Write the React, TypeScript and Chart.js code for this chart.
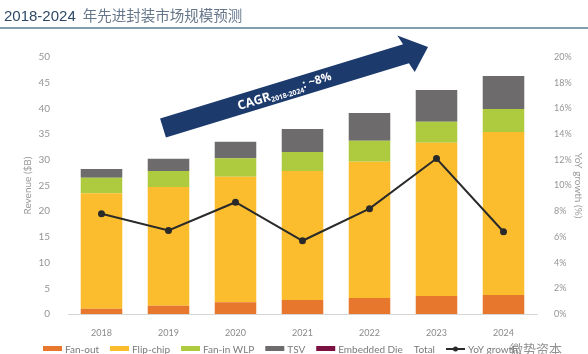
import React, { useEffect, useRef } from "react";
import { Chart, registerables } from "chart.js";

Chart.register(...registerables);

const years = ["2018", "2019", "2020", "2021", "2022", "2023", "2024"];
const fanOut = [1.0, 1.6, 2.3, 2.7, 3.1, 3.5, 3.7];
const flipChip = [22.5, 23.1, 24.4, 25.1, 26.5, 29.8, 31.7];
const fanInWLP = [3.0, 3.1, 3.6, 3.7, 4.1, 4.1, 4.5];
const tsv = [1.7, 2.4, 3.2, 4.5, 5.4, 6.2, 6.4];
const embeddedDie = [0, 0, 0, 0, 0, 0, 0];
const yoyGrowth = [7.8, 6.5, 8.7, 5.7, 8.2, 12.1, 6.4];
const revenueTicks = { min: 0, max: 50, step: 5 };
const growthTicks = { min: 0, max: 20, step: 2 };

const titleNum = "2018-2024";
const titleText = "年先进封装市场规模预测";
const cagrLabel = "CAGR";
const cagrSub = "2018-2024";
const cagrValue = ": ~8%";
const watermark = "微势资本";

const COLORS = {
  fanOut: "#E8772E",
  flipChip: "#FBBD2E",
  fanIn: "#AECB3F",
  tsv: "#6D6B6C",
  embedded: "#7B1140",
  line: "#2A2A2A",
};

const legendItems = [
  { label: "Fan-out", color: COLORS.fanOut, kind: "box" },
  { label: "Flip-chip", color: COLORS.flipChip, kind: "box" },
  { label: "Fan-in WLP", color: COLORS.fanIn, kind: "box" },
  { label: "TSV", color: COLORS.tsv, kind: "box" },
  { label: "Embedded Die", color: COLORS.embedded, kind: "box" },
  { label: "Total", color: "transparent", kind: "none" },
  { label: "YoY growth", color: COLORS.line, kind: "line" },
];

const decorPlugin = {
  id: "decor",
  beforeDraw(chart: any) {
    const ctx = chart.ctx;
    ctx.save();
    ctx.textBaseline = "alphabetic";
    ctx.textAlign = "left";
    ctx.font = '15px "Liberation Sans", Arial, sans-serif';
    ctx.fillStyle = "#2E4966";
    ctx.fillText(titleNum, 4, 21);
    const w = ctx.measureText(titleNum).width;
    ctx.font = '14.5px "Noto Sans CJK SC", sans-serif';
    ctx.fillStyle = "#66778A";
    ctx.fillText(titleText, 4 + w + 7, 21);
    ctx.strokeStyle = "#55808F";
    ctx.lineWidth = 1.5;
    ctx.beginPath();
    ctx.moveTo(0, 28);
    ctx.lineTo(588, 28);
    ctx.stroke();
    ctx.restore();
  },
  afterDraw(chart: any) {
    const ctx = chart.ctx;
    ctx.save();
    const sx = 163, sy = 128, tx = 428, ty = 47;
    const ang = Math.atan2(ty - sy, tx - sx);
    const len = Math.hypot(tx - sx, ty - sy);
    ctx.translate(sx, sy);
    ctx.rotate(ang);
    const ht = 10, hw = 20, hl = 23;
    ctx.fillStyle = "#1D3A6D";
    ctx.beginPath();
    ctx.moveTo(0, -ht);
    ctx.lineTo(len - hl, -ht);
    ctx.lineTo(len - hl - 3, -hw);
    ctx.lineTo(len, 0);
    ctx.lineTo(len - hl + 3, hw);
    ctx.lineTo(len - hl, ht);
    ctx.lineTo(0, ht);
    ctx.closePath();
    ctx.fill();
    ctx.fillStyle = "#FFFFFF";
    ctx.textBaseline = "alphabetic";
    ctx.textAlign = "left";
    let x = 78;
    ctx.font = 'bold 12.5px "Open Sans", sans-serif';
    ctx.fillText(cagrLabel, x, 5);
    x += ctx.measureText(cagrLabel).width;
    ctx.font = 'bold 7px "Open Sans", sans-serif';
    ctx.fillText(cagrSub, x, 7);
    x += ctx.measureText(cagrSub).width;
    ctx.font = 'bold 11.5px "Open Sans", sans-serif';
    ctx.fillText(cagrValue, x, 3);
    ctx.restore();

    ctx.save();
    ctx.font = '10px Lato, "Open Sans", sans-serif';
    ctx.textBaseline = "middle";
    ctx.textAlign = "left";
    const ly = 349;
    let lx = 43;
    legendItems.forEach((it) => {
      if (it.kind === "box") {
        ctx.fillStyle = it.color;
        ctx.fillRect(lx, ly - 3, 19, 5);
        lx += 22;
      } else if (it.kind === "line") {
        ctx.strokeStyle = it.color;
        ctx.lineWidth = 2;
        ctx.beginPath();
        ctx.moveTo(lx, ly);
        ctx.lineTo(lx + 19, ly);
        ctx.stroke();
        ctx.fillStyle = it.color;
        ctx.beginPath();
        ctx.arc(lx + 9.5, ly, 2.5, 0, Math.PI * 2);
        ctx.fill();
        lx += 22;
      }
      ctx.fillStyle = "#7A7A7A";
      ctx.fillText(it.label, lx, ly + 1);
      lx += ctx.measureText(it.label).width + 11;
    });
    ctx.font = '13px "Noto Sans CJK SC", sans-serif';
    ctx.fillStyle = "rgba(110,110,110,0.75)";
    ctx.fillText(watermark, 510, ly);
    ctx.restore();
  },
};

export default function App() {
  const ref = useRef<HTMLCanvasElement | null>(null);
  useEffect(() => {
    document.body.style.margin = "0";
    const canvas = ref.current;
    if (!canvas) return;
    const barDs = (label: string, data: number[], color: string) => ({
      type: "bar" as const,
      label,
      data,
      backgroundColor: color,
      borderWidth: 0,
      yAxisID: "y",
      stack: "rev",
      order: 2,
      barPercentage: 0.62,
      categoryPercentage: 1,
    });
    const chart = new Chart(canvas, {
      type: "bar",
      data: {
        labels: years,
        datasets: [
          {
            type: "line" as const,
            label: "YoY growth",
            data: yoyGrowth,
            borderColor: COLORS.line,
            backgroundColor: COLORS.line,
            borderWidth: 2,
            pointRadius: 2.5,
            pointBackgroundColor: COLORS.line,
            yAxisID: "y1",
            order: 0,
            tension: 0,
          } as any,
          barDs("Fan-out", fanOut, COLORS.fanOut),
          barDs("Flip-chip", flipChip, COLORS.flipChip),
          barDs("Fan-in WLP", fanInWLP, COLORS.fanIn),
          barDs("TSV", tsv, COLORS.tsv),
          barDs("Embedded Die", embeddedDie, COLORS.embedded),
        ],
      },
      options: {
        responsive: false,
        animation: false,
        devicePixelRatio: 1,
        layout: { padding: { top: 57, bottom: 18, left: 0, right: 0 } },
        plugins: {
          legend: { display: false },
          title: { display: false },
          tooltip: { enabled: false },
        },
        scales: {
          x: {
            stacked: true,
            grid: { display: false },
            border: { display: true, color: "#D6D6D6", width: 1 },
            ticks: {
              color: "#8A8A8A",
              font: { family: 'Lato, "Open Sans", sans-serif', size: 9 },
              padding: 6,
            },
            afterFit(scale: any) {
              scale.height = 22;
            },
          },
          y: {
            position: "left",
            stacked: true,
            min: revenueTicks.min,
            max: revenueTicks.max,
            ticks: {
              stepSize: revenueTicks.step,
              color: "#959595",
              font: { family: 'Lato, "Open Sans", sans-serif', size: 10 },
              padding: 10,
            },
            grid: { display: false },
            border: { display: false },
            title: {
              display: true,
              text: "Revenue ($B)",
              color: "#9A9A9A",
              font: { family: 'Lato, "Open Sans", sans-serif', size: 10 },
              padding: { top: 22, bottom: 0 },
            },
            afterFit(scale: any) {
              scale.width = 68;
            },
          },
          y1: {
            position: "right",
            min: growthTicks.min,
            max: growthTicks.max,
            ticks: {
              stepSize: growthTicks.step,
              color: "#959595",
              font: { family: 'Lato, "Open Sans", sans-serif', size: 9 },
              padding: 9,
              callback: (v: any) => v + "%",
            },
            grid: { display: false },
            border: { display: false },
            title: {
              display: true,
              text: "YoY growth (%)",
              color: "#9A9A9A",
              font: { family: 'Lato, "Open Sans", sans-serif', size: 10 },
            },
            afterFit(scale: any) {
              scale.width = 51;
            },
          },
        },
      },
      plugins: [decorPlugin],
    });
    return () => chart.destroy();
  }, []);
  return (
    <div style={{ width: 588, height: 354, background: "#fff" }}>
      <canvas ref={ref} width={588} height={354} style={{ display: "block" }} />
    </div>
  );
}
